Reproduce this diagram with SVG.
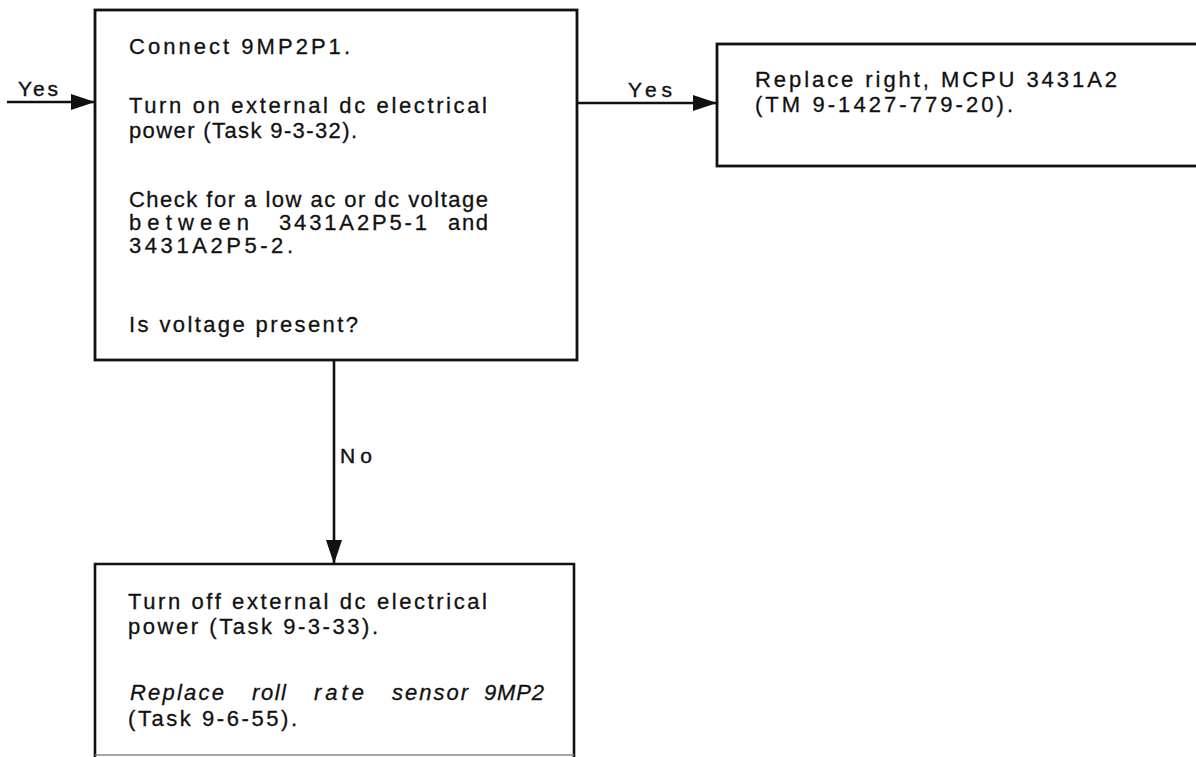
<svg xmlns="http://www.w3.org/2000/svg" width="1196" height="757" viewBox="0 0 1196 757">
  <style>
    .box { fill: #fff; stroke: #111; stroke-width: 2.8; }
    .edge { fill: none; stroke: #111; stroke-width: 2.6; }
    .t { font-family: "Liberation Sans", Arial, sans-serif; font-size: 22px; fill: #111; stroke: #111; stroke-width: 0.3; }
    .lbl { font-family: "Liberation Sans", Arial, sans-serif; font-size: 21px; fill: #111; stroke: #111; stroke-width: 0.4; }
  </style>
  <defs>
    <marker id="arr" markerUnits="userSpaceOnUse" markerWidth="24" markerHeight="18" refX="24" refY="9" orient="auto">
      <path d="M0,1 L24,9 L0,17 z" fill="#111"/>
    </marker>
  </defs>
  <rect width="1196" height="757" fill="#fff"/>

  <g id="connectors">
    <line class="edge" x1="7" y1="102" x2="95" y2="102" marker-end="url(#arr)"/>
    <text class="lbl" x="18" y="96" textLength="40" lengthAdjust="spacing">Yes</text>
    <line class="edge" x1="577" y1="103" x2="717" y2="103" marker-end="url(#arr)"/>
    <text class="lbl" x="628" y="97" textLength="44" lengthAdjust="spacing">Yes</text>
    <line class="edge" x1="334" y1="360" x2="334" y2="564" marker-end="url(#arr)"/>
    <text class="lbl" x="340" y="463" textLength="32" lengthAdjust="spacing">No</text>
  </g>

  <g id="node-check">
    <rect class="box" x="95" y="10" width="482" height="350"/>
    <text class="t" x="129" y="54" textLength="221" lengthAdjust="spacing">Connect 9MP2P1.</text>
    <text class="t" x="129" y="113" textLength="358" lengthAdjust="spacing">Turn on external dc electrical</text>
    <text class="t" x="129" y="138" textLength="228" lengthAdjust="spacing">power (Task 9-3-32).</text>
    <text class="t" x="129" y="207" textLength="359" lengthAdjust="spacing">Check for a low ac or dc voltage</text>
    <text class="t" x="129" y="230" textLength="120" lengthAdjust="spacing">between</text>
    <text class="t" x="279" y="230" textLength="148" lengthAdjust="spacing">3431A2P5-1</text>
    <text class="t" x="448" y="230" textLength="40" lengthAdjust="spacing">and</text>
    <text class="t" x="129" y="253" textLength="164" lengthAdjust="spacing">3431A2P5-2.</text>
    <text class="t" x="129" y="332" textLength="229" lengthAdjust="spacing">Is voltage present?</text>
  </g>

  <g id="node-replace-mcpu">
    <rect class="box" x="717" y="44" width="500" height="122"/>
    <text class="t" x="755" y="87" textLength="362" lengthAdjust="spacing">Replace right, MCPU 3431A2</text>
    <text class="t" x="755" y="112" textLength="258" lengthAdjust="spacing">(TM 9-1427-779-20).</text>
  </g>

  <g id="node-replace-sensor">
    <path d="M95,757 V564 H574 V757" class="edge"/>
    <line x1="95" y1="755" x2="574" y2="755" stroke="#888" stroke-width="1.5"/>
    <text class="t" x="128" y="609" textLength="359" lengthAdjust="spacing">Turn off external dc electrical</text>
    <text class="t" x="128" y="634" textLength="250" lengthAdjust="spacing">power (Task 9-3-33).</text>
    <text class="t" x="130" y="700" textLength="94" lengthAdjust="spacing" font-style="italic">Replace</text>
    <text class="t" x="252" y="700" textLength="34" lengthAdjust="spacing" font-style="italic">roll</text>
    <text class="t" x="314" y="700" textLength="50" lengthAdjust="spacing" font-style="italic">rate</text>
    <text class="t" x="392" y="700" textLength="76" lengthAdjust="spacing" font-style="italic">sensor</text>
    <text class="t" x="484" y="700" textLength="60" lengthAdjust="spacing" font-style="italic">9MP2</text>
    <text class="t" x="128" y="726" textLength="169" lengthAdjust="spacing">(Task 9-6-55).</text>
  </g>
</svg>
